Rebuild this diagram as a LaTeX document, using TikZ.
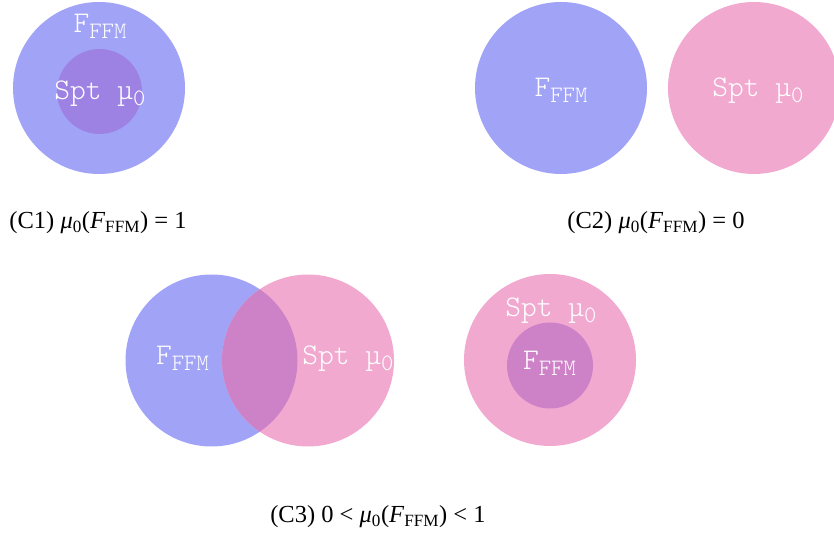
\documentclass[tikz,border=0pt]{standalone}
\usepackage{fontspec}
\setmainfont{Liberation Serif}
\setmonofont{Latin Modern Mono Light}
\usepackage{tikz}
\usetikzlibrary{positioning}
\definecolor{ffmblue}{HTML}{A1A4F6}
\definecolor{sptpink}{HTML}{F2A9D0}
\definecolor{innerviolet}{HTML}{9D82E4}
\definecolor{overlapmauve}{HTML}{CD82C8}
\newcommand{\lowsub}[1]{\raisebox{-6pt}{\fontsize{23.5}{24}\selectfont #1}}

\begin{document}
\begin{tikzpicture}[x=1pt,y=1pt,
  setlabel/.style={text=white,font=\ttfamily\fontsize{30}{32}\selectfont,anchor=base,inner sep=0pt},
  caption/.style={font=\fontsize{24.5}{28}\selectfont,anchor=base,inner sep=0pt}]
  \useasboundingbox (0,0) rectangle (834,537);
  \clip (0,0) rectangle (834,537);
  % (C1) support inside F_FFM
  \fill[ffmblue] (99,449) coordinate (c1big) circle (86);
  \fill[innerviolet] (99.5,445.5) coordinate (c1small) circle (42.5);
  \node[setlabel] (c1ffm) at (100,504) {F\lowsub{FFM}};
  \node[setlabel] (c1spt) at (100,437) {Spt µ\lowsub{0}};
  \node[caption] (capone) at (98,308) {(C1) \textit{μ}\textsubscript{0}(\textit{F}\textsubscript{FFM}) = 1};
  % (C2) disjoint
  \fill[ffmblue] (561,449) coordinate (c2ffm) circle (86);
  \fill[sptpink] (754,449) coordinate (c2spt) circle (86);
  \node[setlabel] (c2ffmlab) at (561,440) {F\lowsub{FFM}};
  \node[setlabel] (c2sptlab) at (758,440) {Spt µ\lowsub{0}};
  \node[caption] (captwo) at (656,308) {(C2) \textit{μ}\textsubscript{0}(\textit{F}\textsubscript{FFM}) = 0};
  % (C3) overlapping and F_FFM inside the support
  \fill[ffmblue] (211.5,176.5) coordinate (c3ffm) circle (86);
  \fill[sptpink] (308,176.5) coordinate (c3spt) circle (86);
  \begin{scope}
    \clip (c3ffm) circle (86);
    \fill[overlapmauve] (c3spt) circle (86);
  \end{scope}
  \node[setlabel] (c3ffmlab) at (182.5,172) {F\lowsub{FFM}};
  \node[setlabel] (c3sptlab) at (348,172) {Spt µ\lowsub{0}};
  \fill[sptpink] (550,177) coordinate (c4big) circle (86);
  \fill[overlapmauve] (550,171.5) coordinate (c4small) circle (43);
  \node[setlabel] (c4spt) at (551,220) {Spt µ\lowsub{0}};
  \node[setlabel] (c4ffm) at (549.5,167) {F\lowsub{FFM}};
  \node[caption] (capthree) at (378,14) {(C3) 0 < \textit{μ}\textsubscript{0}(\textit{F}\textsubscript{FFM}) < 1};
\end{tikzpicture}
\end{document}
